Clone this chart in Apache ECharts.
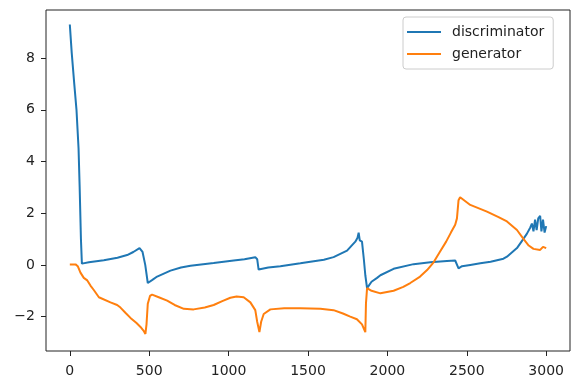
<!DOCTYPE html>
<html>
<head>
<meta charset="utf-8">
<script src="https://cdn.jsdelivr.net/npm/echarts@6/dist/echarts.min.js"></script>
<style>
html,body{margin:0;padding:0;background:#fff;}
#chart{width:577px;height:387px;}
</style>
</head>
<body>
<div id="chart"></div>
<script>
const xTicks = [0, 500, 1000, 1500, 2000, 2500, 3000];
const yTicks = [-2, 0, 2, 4, 6, 8];

const discX = [0, 12, 28, 42, 55, 62, 70, 76, 120, 214, 300, 361, 400, 439, 458, 475, 491, 520, 550, 634, 700, 760, 906, 1032, 1100, 1168, 1180, 1189, 1250, 1326, 1452, 1515, 1600, 1661, 1746, 1798, 1812, 1819, 1826, 1840, 1852, 1861, 1872, 1900, 1935, 1956, 2039, 2165, 2270, 2375, 2427, 2438, 2448, 2470, 2522, 2585, 2650, 2731, 2753, 2816, 2850, 2878, 2900, 2910, 2920, 2930, 2940, 2950, 2962, 2970, 2980, 2990, 3000];
const discY = [9.3, 8.2, 7.0, 6.0, 4.5, 3.0, 1.0, 0.05, 0.1, 0.18, 0.28, 0.38, 0.5, 0.65, 0.5, 0.0, -0.7, -0.58, -0.45, -0.22, -0.1, -0.03, 0.07, 0.17, 0.22, 0.3, 0.22, -0.18, -0.1, -0.05, 0.06, 0.12, 0.2, 0.3, 0.55, 0.9, 1.05, 1.25, 0.95, 0.9, 0.2, -0.4, -0.9, -0.65, -0.5, -0.4, -0.15, 0.03, 0.1, 0.15, 0.17, 0.1, -0.13, -0.05, 0.0, 0.06, 0.12, 0.24, 0.32, 0.65, 0.95, 1.2, 1.45, 1.6, 1.3, 1.75, 1.35, 1.8, 1.9, 1.3, 1.75, 1.25, 1.5];

const genX = [0, 36, 50, 67, 88, 110, 130, 151, 183, 193, 256, 298, 319, 350, 382, 420, 445, 465, 476, 483, 491, 505, 518, 560, 613, 660, 718, 780, 850, 906, 960, 1011, 1050, 1095, 1137, 1168, 1180, 1194, 1205, 1221, 1263, 1350, 1452, 1578, 1661, 1720, 1766, 1808, 1840, 1861, 1865, 1872, 1900, 1956, 2039, 2100, 2144, 2206, 2250, 2291, 2330, 2370, 2400, 2427, 2438, 2448, 2458, 2522, 2627, 2700, 2753, 2816, 2858, 2890, 2920, 2962, 2980, 3000];
const genY = [0.02, 0.02, -0.05, -0.3, -0.5, -0.6, -0.8, -0.97, -1.25, -1.3, -1.45, -1.55, -1.65, -1.85, -2.05, -2.25, -2.4, -2.55, -2.67, -2.3, -1.5, -1.2, -1.15, -1.25, -1.38, -1.55, -1.7, -1.72, -1.65, -1.55, -1.4, -1.27, -1.22, -1.25, -1.45, -1.75, -2.2, -2.6, -2.2, -1.9, -1.72, -1.68, -1.68, -1.7, -1.75, -1.88, -2.0, -2.1, -2.3, -2.6, -1.5, -0.9, -1.0, -1.1, -1.0, -0.85, -0.7, -0.45, -0.2, 0.1, 0.5, 0.9, 1.25, 1.55, 1.8, 2.5, 2.62, 2.32, 2.06, 1.85, 1.68, 1.35, 1.0, 0.75, 0.62, 0.58, 0.7, 0.65];

const pair = (xs, ys) => xs.map((x, i) => [x, ys[i]]);

const FONT = "'DejaVu Sans', sans-serif";
const INK = '#222';

const chart = echarts.init(document.getElementById('chart'), null, {renderer: 'canvas'});
chart.setOption({
  animation: false,
  backgroundColor: '#fff',
  grid: {left: 46, right: 7, top: 10, bottom: 36, show: true, borderColor: INK, borderWidth: 1, backgroundColor: 'transparent'},
  legend: {
    orient: 'vertical',
    left: 403, top: 17,
    padding: [4, 9, 4, 4],
    itemGap: 0,
    icon: 'rect',
    itemWidth: 34, itemHeight: 2,
    backgroundColor: '#fff',
    borderColor: '#ccc', borderWidth: 1, borderRadius: 3,
    textStyle: {fontFamily: FONT, fontSize: 14, color: INK, lineHeight: 22, padding: [0, 0, 0, 6]},
    data: ['discriminator', 'generator']
  },
  xAxis: {
    type: 'value', min: -150, max: 3150,
    splitLine: {show: false},
    axisLine: {show: false, onZero: false},
    axisTick: {show: true, inside: false, length: 5, lineStyle: {color: INK, width: 1}, customValues: xTicks},
    axisLabel: {fontFamily: FONT, fontSize: 14, color: INK, margin: 13, customValues: xTicks,
      formatter: v => String(v)}
  },
  yAxis: {
    type: 'value', min: -3.33, max: 9.86,
    splitLine: {show: false},
    axisLine: {show: false, onZero: false},
    axisTick: {show: true, inside: false, length: 5, lineStyle: {color: INK, width: 1}, customValues: yTicks},
    axisLabel: {fontFamily: FONT, fontSize: 14, color: INK, margin: 11, customValues: yTicks,
      formatter: v => (v < 0 ? '\u2212' + Math.abs(v) : String(v))}
  },
  series: [
    {name: 'discriminator', type: 'line', data: pair(discX, discY), symbol: 'none', showSymbol: false,
     lineStyle: {color: '#1f77b4', width: 2}, itemStyle: {color: '#1f77b4'}, z: 2},
    {name: 'generator', type: 'line', data: pair(genX, genY), symbol: 'none', showSymbol: false,
     lineStyle: {color: '#ff7f0e', width: 2}, itemStyle: {color: '#ff7f0e'}, z: 3}
  ]
});
</script>
</body>
</html>
